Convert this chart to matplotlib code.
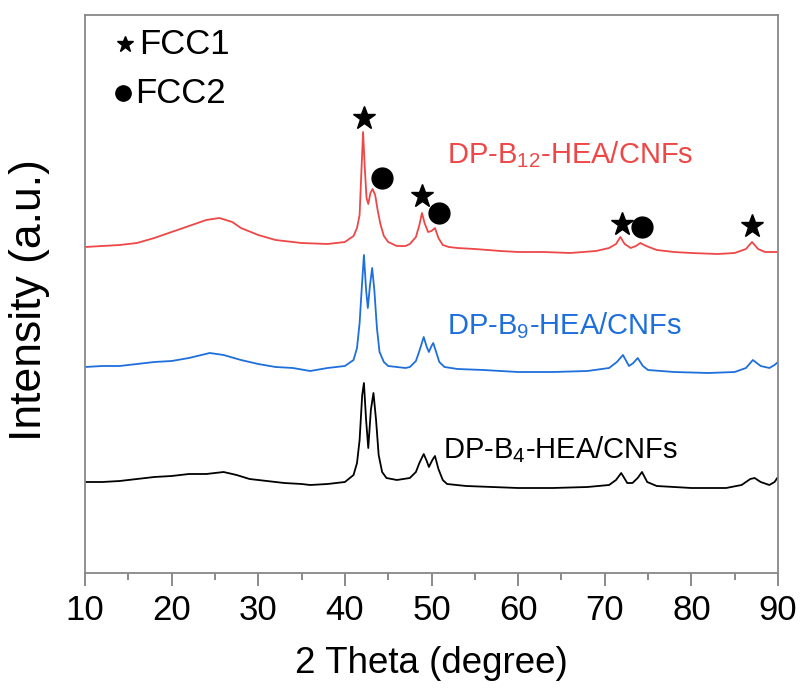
import matplotlib
matplotlib.use("Agg")
import matplotlib.pyplot as plt

plt.rcParams['font.family'] = ['Liberation Sans', 'DejaVu Sans']
plt.rcParams['mathtext.default'] = 'regular'

# ---- data (2 Theta in degree, intensity in a.u., stacked) ----
red_x = [10, 12, 14, 16, 18, 20, 22, 24, 25.5, 27, 28, 30, 32, 35, 38, 40, 41, 41.4, 41.7,
         41.9, 42.1, 42.3, 42.5, 42.7, 42.95, 43.2, 43.5, 43.8, 44.1, 44.5, 45, 46, 47,
         47.5, 48.2, 48.6, 48.9, 49.2, 49.6, 50.0, 50.4, 50.8, 51.3, 52, 53, 55, 58, 60,
         63, 66, 69, 70.5, 71.3, 71.8, 72.3, 73, 73.6, 74.1, 74.8, 76, 78, 80, 83, 85,
         86.3, 87, 87.7, 88.5, 90]
red_y = [326, 327, 328, 330, 335, 341, 347, 353, 355, 351, 345, 338, 333, 330, 329, 331, 337, 345, 358,
         400, 441, 405, 375, 369, 380, 384, 378, 362, 349, 337, 331, 327, 327,
         329, 336, 348, 360, 350, 341, 342, 345, 335, 328, 326, 325, 324, 322, 321,
         321, 320, 322, 325, 329, 336, 329, 325, 327, 330, 327, 323, 321, 320, 319, 320,
         324, 331, 324, 321, 321]

blue_x = [10, 12, 14, 16, 18, 20, 22, 24.4, 26, 28, 30, 32, 34, 36, 38, 40, 41, 41.4, 41.7,
          41.95, 42.2, 42.45, 42.65, 42.9, 43.15, 43.4, 43.7, 44.0, 44.5, 45, 47, 47.5,
          48.2, 48.6, 49.1, 49.45, 49.7, 50.0, 50.2, 50.5, 50.9, 51.5, 53, 56, 60, 64, 68,
          70.5, 71.4, 72.1, 72.8, 73.3, 73.8, 74.4, 75, 78, 82, 85, 86.3, 87.1, 88, 89,
          89.6, 90]
blue_y = [206, 207, 207, 209, 211, 212, 215, 220, 218, 213, 209, 206, 205, 202, 205, 207, 213, 225, 250,
          285, 318, 283, 265, 288, 305, 283, 245, 221, 211, 207, 205, 206,
          212, 222, 236, 226, 221, 227, 230, 222, 211, 206, 204, 203, 201, 201, 202,
          205, 211, 218, 207, 210, 215, 207, 203, 201, 200, 201, 205, 213, 207, 205,
          208, 211]

black_x = [10, 12, 14, 16, 18, 20, 22, 24, 26, 27.5, 29, 31, 33, 35, 36, 38, 40, 41, 41.4,
           41.7, 42.0, 42.2, 42.45, 42.7, 43.0, 43.3, 43.6, 43.9, 44.3, 44.8, 46, 47.5,
           48.2, 48.6, 49.1, 49.45, 49.7, 50.1, 50.4, 50.8, 51.3, 51.8, 54, 57, 60, 64, 68,
           70.5, 71.3, 71.9, 72.6, 73.2, 73.8, 74.3, 74.9, 76, 80, 84, 85.8, 86.8, 87.3,
           88, 89, 89.6, 90]
black_y = [91, 91, 92, 94, 96, 97, 99, 99, 101, 98, 94, 92, 90, 89, 88, 89, 91, 98, 110,
           133, 178, 190, 153, 125, 163, 180, 153, 118, 101, 95, 93, 95,
           101, 110, 119, 112, 106, 113, 117, 104, 93, 89, 87, 86, 85, 85, 86,
           88, 93, 100, 90, 90, 95, 101, 91, 87, 85, 85, 88, 94, 95,
           91, 88, 91, 96]

series_labels = ['DP-B$_{12}$-HEA/CNFs', 'DP-B$_{9}$-HEA/CNFs', 'DP-B$_{4}$-HEA/CNFs']
series_colors = ['#EE4747', '#1E6FDB', '#000000']

fcc1_x = [42.2, 48.9, 72.0, 87.0]
fcc1_y = [455, 377, 349, 347]
fcc2_x = [44.3, 50.9, 74.3]
fcc2_y = [395, 360, 346]

xticks = [10, 20, 30, 40, 50, 60, 70, 80, 90]

# ---- figure ----
fig = plt.figure(figsize=(8.02, 6.89), dpi=100)
ax = fig.add_axes([85 / 802, 1 - 573 / 689, (778 - 85) / 802, (573 - 15) / 689])

for xs, ys, c in zip([red_x, blue_x, black_x], [red_y, blue_y, black_y], series_colors):
    ax.plot(xs, ys, color=c, lw=1.3)

ax.plot(fcc1_x, fcc1_y, ls='none', marker='*', ms=17, color='black')
ax.plot(fcc2_x, fcc2_y, ls='none', marker='o', ms=15, color='black')

label_pos = [(51.8, 418), (51.8, 247), (51.3, 123)]
for (lx, ly), lab, c in zip(label_pos, series_labels, series_colors):
    ax.text(lx, ly, lab, color=c, fontsize=21, va='center', ha='left')

# legend-like key
ax.plot([0.058], [0.948], marker='*', ms=12, color='black', transform=ax.transAxes, clip_on=False)
ax.text(0.078, 0.948, 'FCC1', transform=ax.transAxes, fontsize=25, va='center', ha='left')
ax.plot([0.055], [0.86], marker='o', ms=11, color='black', transform=ax.transAxes, clip_on=False)
ax.text(0.073, 0.86, 'FCC2', transform=ax.transAxes, fontsize=25, va='center', ha='left')

ax.set_xlim(10, 90)
ax.set_ylim(0, 558)
ax.set_xticks(xticks)
ax.set_xticks([15, 25, 35, 45, 55, 65, 75, 85], minor=True)
ax.set_yticks([])
ax.tick_params(axis='x', which='major', direction='out', length=9, width=1.2, color='#777777',
               labelsize=25, pad=6)
ax.tick_params(axis='x', which='minor', direction='out', length=5, width=1.2, color='#777777')
for s in ax.spines.values():
    s.set_color('#888888')
    s.set_linewidth(1.3)

ax.set_xlabel('2 Theta (degree)', fontsize=26.5, labelpad=14)
ax.set_ylabel('Intensity (a.u.)', fontsize=32)
ax.yaxis.set_label_coords(-0.05, 0.49)

fig.savefig('out.png', dpi=100)
